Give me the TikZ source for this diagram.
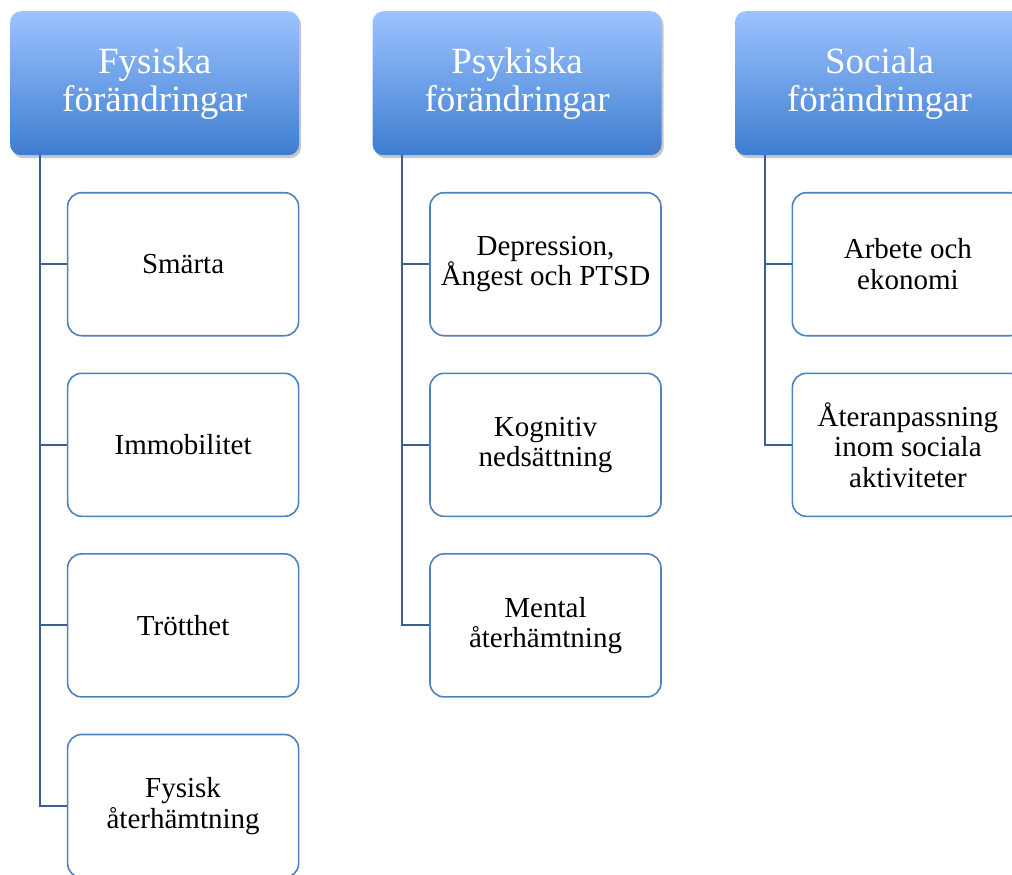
\documentclass[tikz,border=0pt]{standalone}
\usepackage{fontspec}
\setmainfont{Liberation Serif}
\usepackage{tikz}
\usetikzlibrary{positioning,shadows}
\usepackage{xcolor}
\definecolor{headtop}{RGB}{156,195,255}
\definecolor{headbot}{RGB}{62,125,207}
\definecolor{itemline}{RGB}{79,129,189}
\definecolor{connline}{RGB}{58,95,145}

\begin{document}
\begin{tikzpicture}[
        head/.style={rectangle, rounded corners=11pt, top color=headtop, bottom color=headbot,
            text=white, align=center, minimum width=289pt, minimum height=144pt,
            font=\fontsize{37}{38}\selectfont,
            drop shadow={shadow xshift=2pt, shadow yshift=-3pt, opacity=0.22, fill=black}},
        item/.style={draw=itemline, line width=1.6pt, rectangle, rounded corners=14pt, fill=white,
            align=center, minimum width=231pt, minimum height=143pt,
            font=\fontsize{29}{30.5}\selectfont},
        conn/.style={draw=connline, line width=2pt}]
        \clip (0,0) rectangle (1012pt,-875pt);
        \useasboundingbox (0,0) rectangle (1012pt,-875pt);

        % Headers
        \node[head, anchor=north west] (fys) at (10pt,-11pt) {Fysiska\\förändringar};
        \node[head, right=73pt of fys] (psy) {Psykiska\\förändringar};
        \node[head, right=73pt of psy] (soc) {Sociala\\förändringar};

        % Fysiska
        \node[item, below left=36.5pt and 0pt of fys.south east] (smarta) {Smärta};
        \node[item, below=36pt of smarta] (immob) {Immobilitet};
        \node[item, below=36pt of immob] (trott) {Trötthet};
        \node[item, below=36pt of trott] (fysat) {Fysisk\\återhämtning};

        % Psykiska
        \node[item, below left=36.5pt and 0pt of psy.south east] (depr) {Depression,\\Ångest och PTSD};
        \node[item, below=36pt of depr] (kogn) {Kognitiv\\nedsättning};
        \node[item, below=36pt of kogn] (mental) {Mental\\återhämtning};

        % Sociala
        \node[item, below left=36.5pt and 0pt of soc.south east] (arbete) {Arbete och\\ekonomi};
        \node[item, below=36pt of arbete] (ateran) {Återanpassning\\inom sociala\\aktiviteter};

        % Connectors
        \foreach \c in {smarta,immob,trott,fysat}
            \draw[conn] ([xshift=30pt]fys.south west) |- (\c.west);
        \foreach \c in {depr,kogn,mental}
            \draw[conn] ([xshift=30pt]psy.south west) |- (\c.west);
        \foreach \c in {arbete,ateran}
            \draw[conn] ([xshift=30pt]soc.south west) |- (\c.west);
    \end{tikzpicture}
\end{document}
